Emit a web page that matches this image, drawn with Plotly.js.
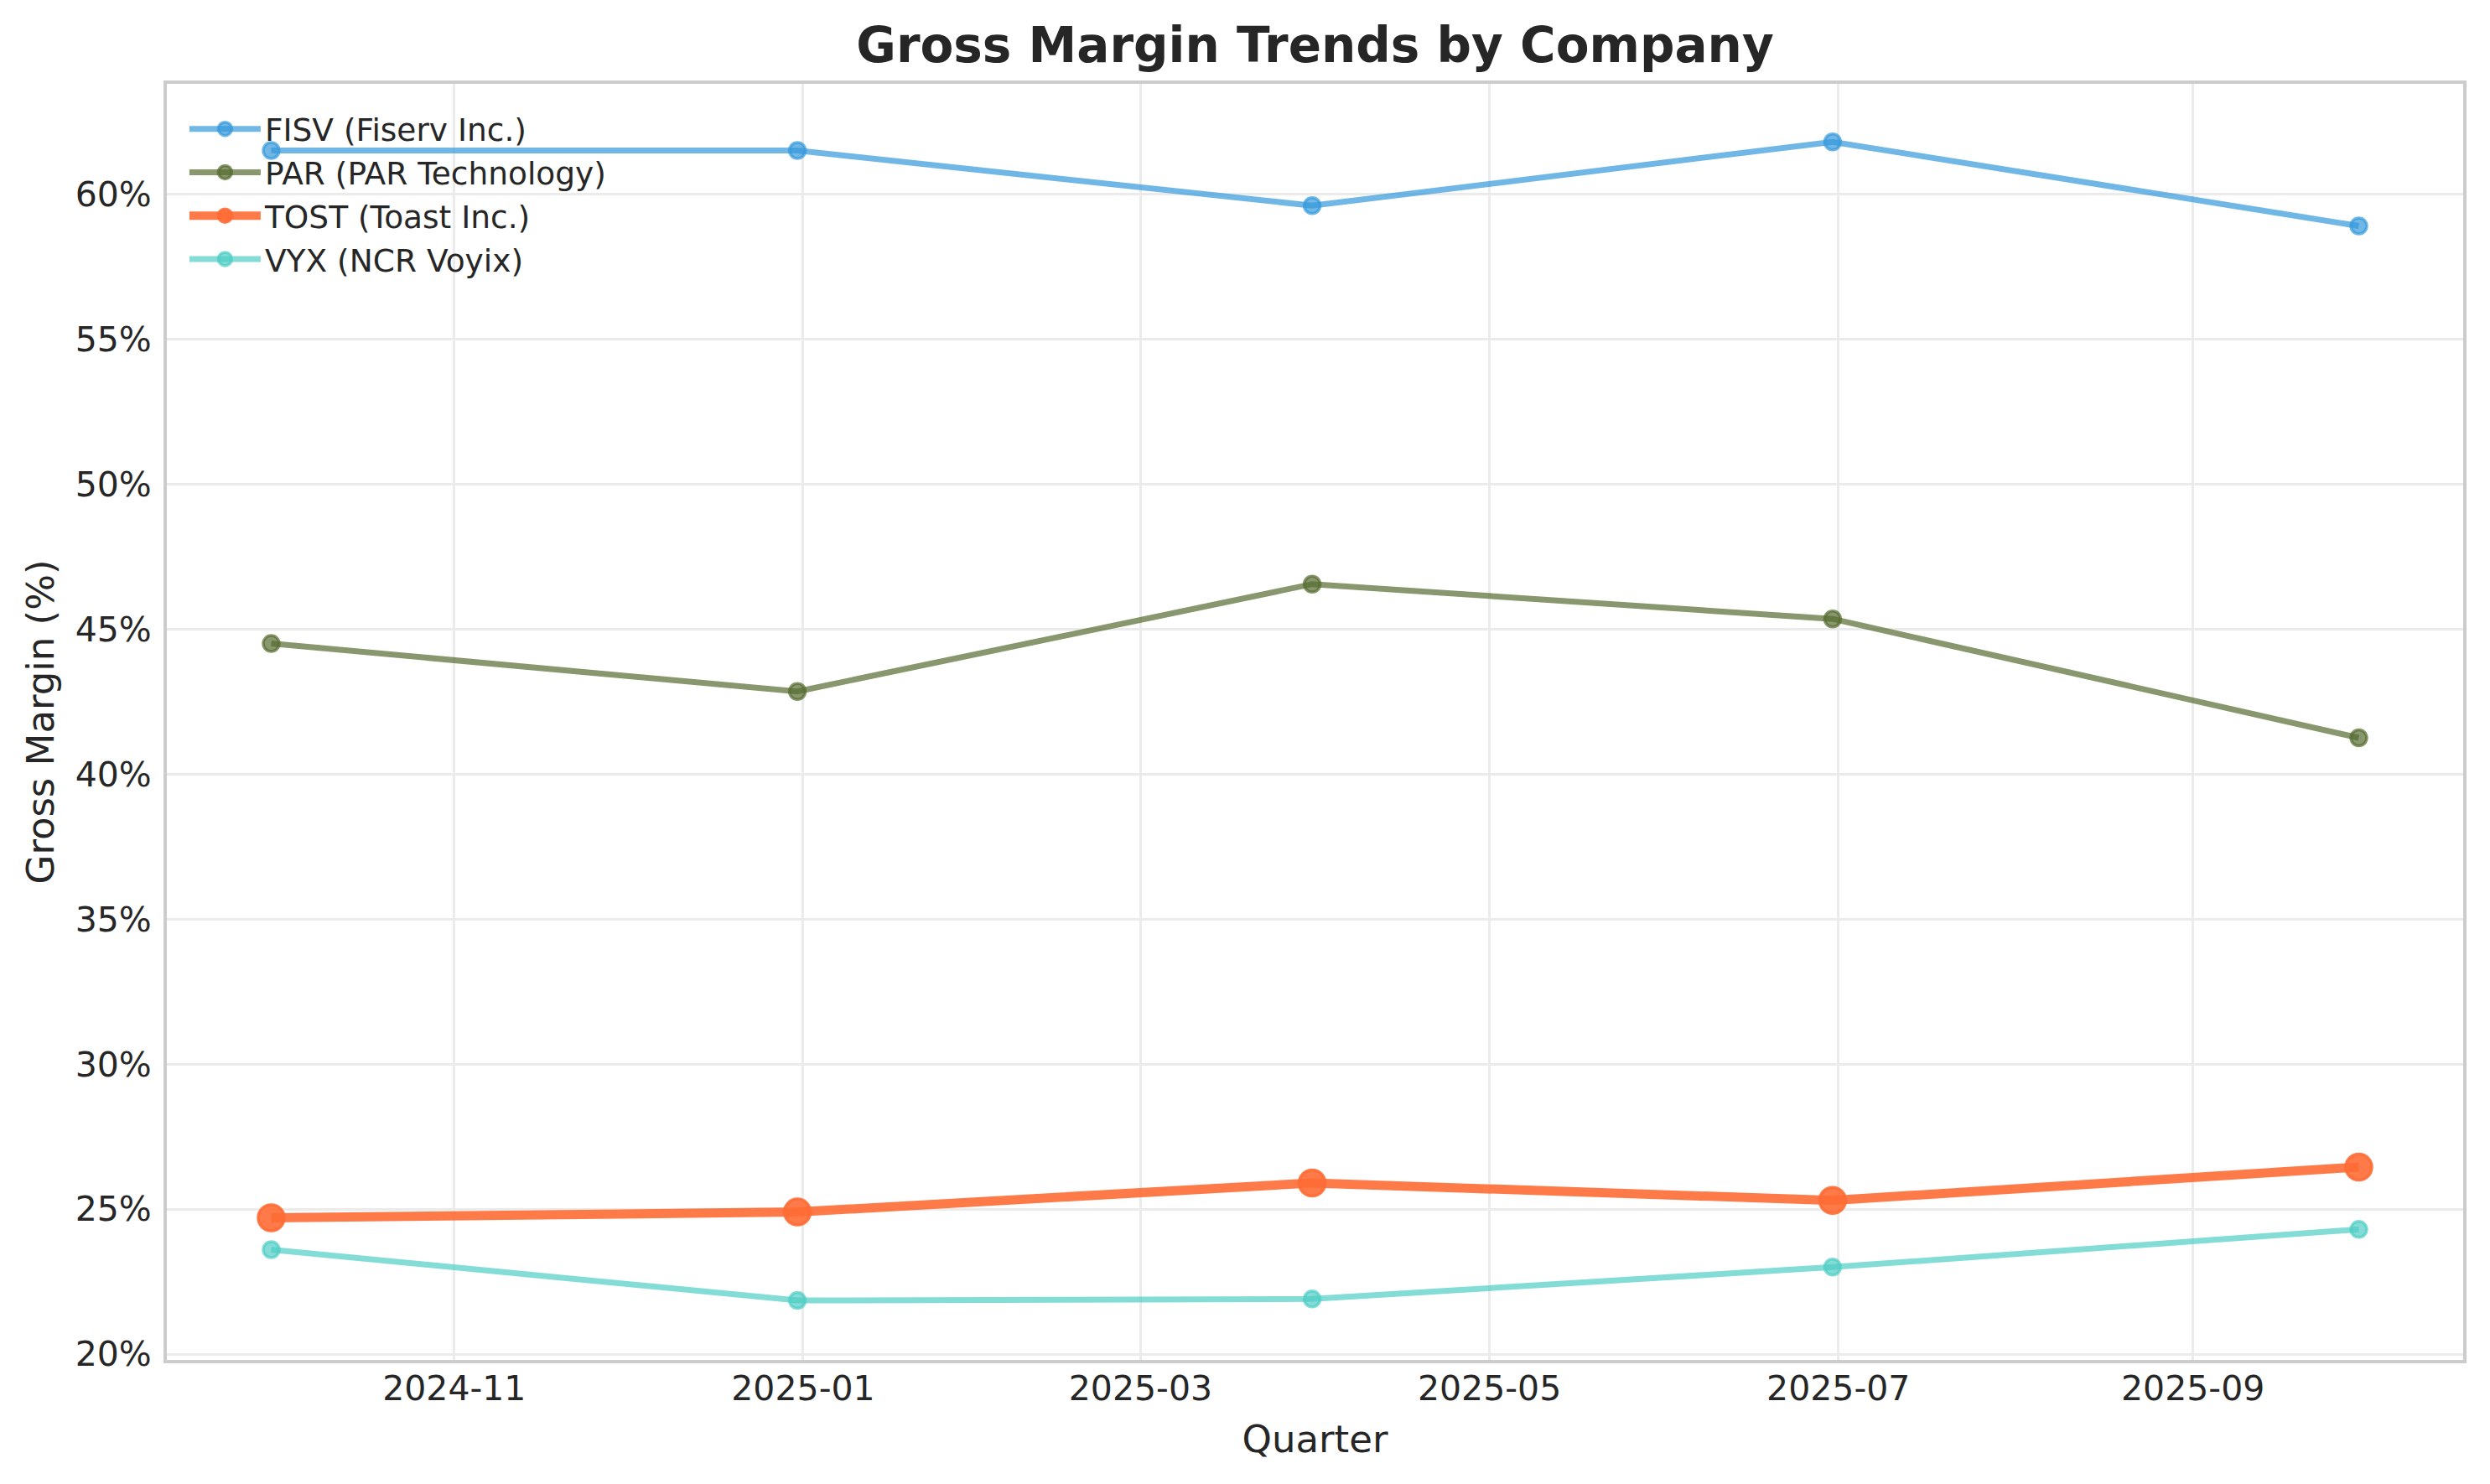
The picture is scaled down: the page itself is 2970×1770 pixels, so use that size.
<!DOCTYPE html>
<html>
<head>
<meta charset="utf-8">
<script src="https://cdn.plot.ly/plotly-3.0.1.min.js"></script>
<style>
	html, body { margin: 0; padding: 0; background: #ffffff; }
	#myDiv { width: 2970px; height: 1770px; }
</style>
</head>
<body>
<div id="myDiv"></div>
<script>
// quarter end dates
var quarters = ['2024-09-30', '2024-12-31', '2025-03-31', '2025-06-30', '2025-09-30'];

// gross margin in %
var fisv = [61.5, 61.5, 59.6, 61.8, 58.9];
var par = [44.5, 42.85, 46.55, 45.35, 41.25];
var tost = [24.7, 24.9, 25.9, 25.3, 26.45];
var vyx = [23.6, 21.85, 21.9, 23.0, 24.3];

var seriesNames = ['FISV (Fiserv Inc.)', 'PAR (PAR Technology)', 'TOST (Toast Inc.)', 'VYX (NCR Voyix)'];

var fontFam = '"DejaVu Sans", "Liberation Sans", sans-serif';
var textCol = '#262626';

function makeTrace(name, vals, rgb, alpha, lw, msize) {
	var col = 'rgba(' + rgb + ',' + alpha + ')';
	return {
		x: quarters,
		y: vals,
		name: name,
		type: 'scatter',
		mode: 'lines+markers',
		line: { color: col, width: lw },
		marker: { color: col, size: msize, line: { color: col, width: 3.5 } }
	};
}

var data = [
	makeTrace(seriesNames[0], fisv, '52,152,219', 0.7, 7, 19),
	makeTrace(seriesNames[1], par, '85,107,47', 0.7, 7, 19),
	makeTrace(seriesNames[2], tost, '255,107,53', 0.9, 11, 31),
	makeTrace(seriesNames[3], vyx, '78,205,196', 0.7, 7, 19)
];

var layout = {
	width: 2970,
	height: 1770,
	paper_bgcolor: '#ffffff',
	plot_bgcolor: '#ffffff',
	font: { family: fontFam, color: textCol, size: 41 },
	margin: { l: 199, r: 32, t: 100, b: 148, pad: 0 },
	title: {
		text: '<b>Gross Margin Trends by Company</b>',
		font: { family: fontFam, size: 58, color: textCol },
		x: 0.5 + (199 - 32) / 2 / 2970,
		xanchor: 'center',
		yref: 'container',
		y: 1 - 54 / 1770,
		yanchor: 'middle'
	},
	xaxis: {
		type: 'date',
		range: ['2024-09-11 18:00', '2025-10-18 06:00'],
		tick0: '2024-11-01',
		dtick: 'M2',
		tickformat: '%Y-%m',
		ticks: '',
		ticklabelstandoff: -5,
		tickfont: { size: 41 },
		showgrid: true,
		gridcolor: '#ebebeb',
		gridwidth: 3,
		showline: true,
		linecolor: '#cccccc',
		linewidth: 4,
		mirror: true,
		zeroline: false,
		automargin: false,
		title: { text: 'Quarter', font: { size: 45 }, standoff: 22 }
	},
	yaxis: {
		range: [19.8, 63.8],
		tick0: 20,
		dtick: 5,
		ticksuffix: '%',
		ticks: '',
		ticklabelstandoff: 6,
		tickfont: { size: 41 },
		showgrid: true,
		gridcolor: '#ebebeb',
		gridwidth: 3,
		showline: true,
		linecolor: '#cccccc',
		linewidth: 4,
		mirror: true,
		zeroline: false,
		automargin: false,
		title: { text: 'Gross Margin (%)', font: { size: 45 }, standoff: 12 }
	},
	legend: {
		x: 0.008,
		y: 0.985,
		xanchor: 'left',
		yanchor: 'top',
		bgcolor: 'rgba(0,0,0,0)',
		borderwidth: 0,
		font: { family: fontFam, size: 37.5, color: textCol },
		itemsizing: 'trace',
		itemwidth: 85,
		tracegroupgap: 0
	},
	showlegend: true
};

Plotly.newPlot(document.getElementById('myDiv'), data, layout, { staticPlot: true });
</script>
</body>
</html>
